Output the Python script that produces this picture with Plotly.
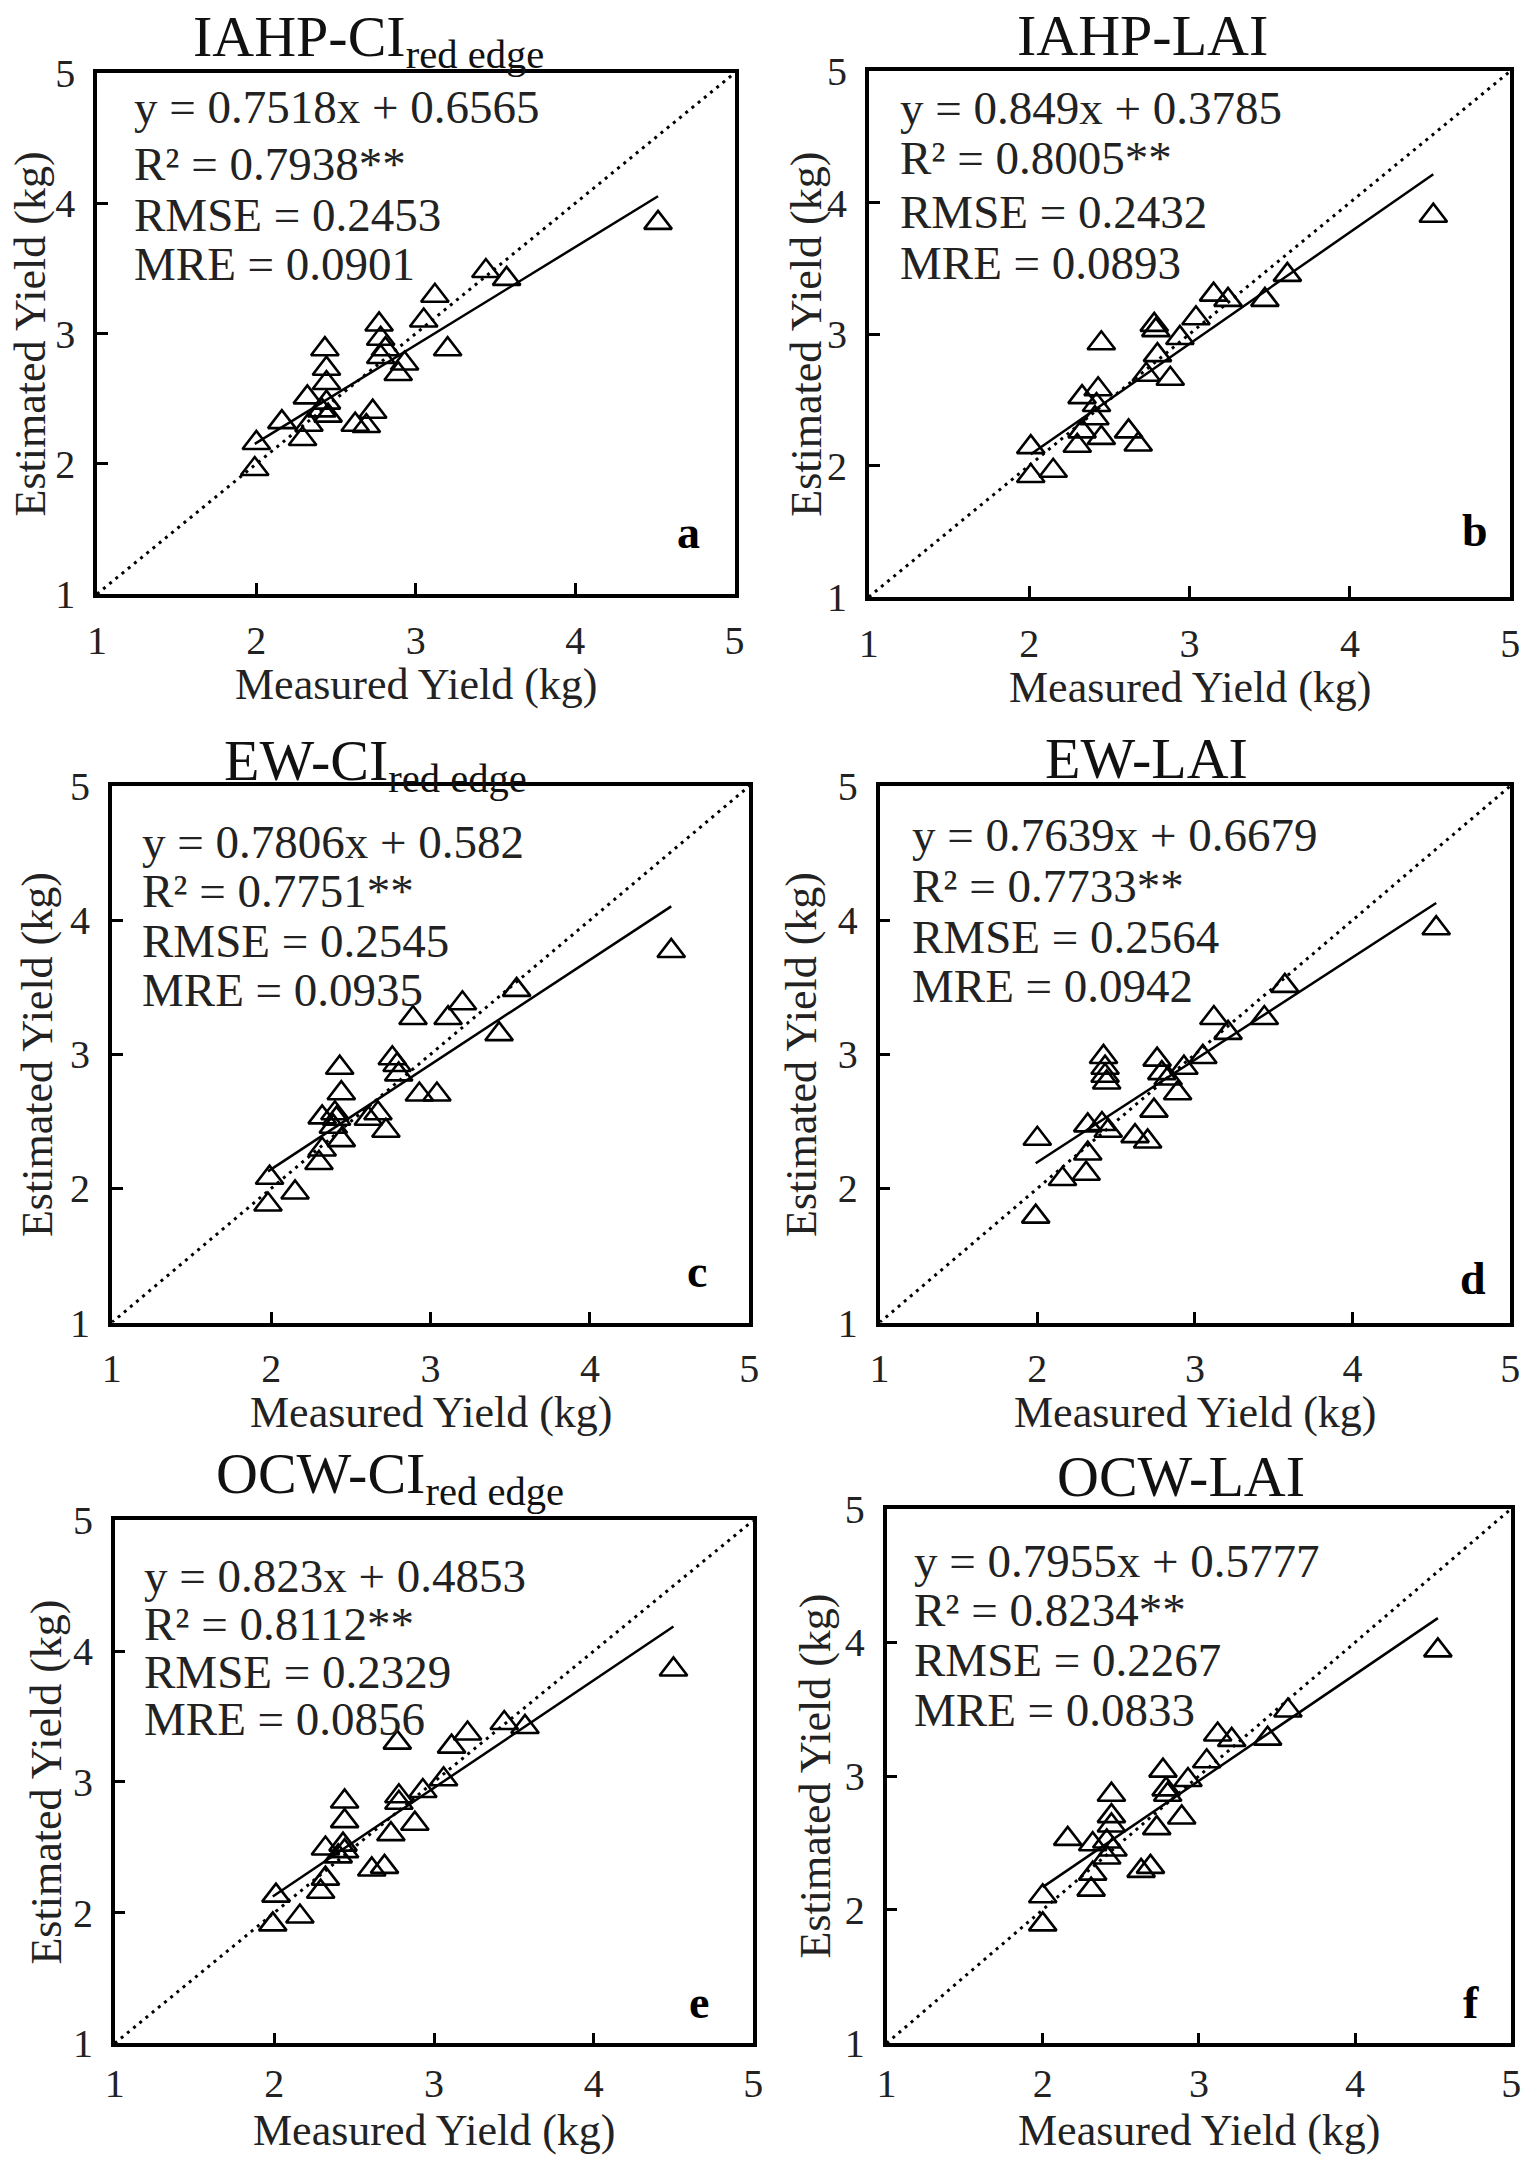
import plotly.graph_objects as go

W, H = 1534, 2169
OFF = 8  # default page body margin
FONT = "Liberation Serif"

# ---------------- data ----------------
panel_ids = ["a", "b", "c", "d", "e", "f"]
titles = ["IAHP-CI<sub>red edge</sub>", "IAHP-LAI", "EW-CI<sub>red edge</sub>",
          "EW-LAI", "OCW-CI<sub>red edge</sub>", "OCW-LAI"]

a_meas = [4.52, 3.44, 3.57, 3.12, 3.05, 3.20, 2.77, 2.78, 2.81, 2.78, 2.93, 2.89, 2.43, 2.44,
          2.44, 2.32, 2.44, 2.41, 2.45, 2.33, 2.16, 2.29, 2.62, 2.69, 2.73, 2.00, 1.99]
a_est = [3.85, 3.48, 3.42, 3.29, 3.10, 2.88, 3.07, 2.96, 2.88, 2.82, 2.77, 2.69, 2.88, 2.73,
         2.62, 2.51, 2.47, 2.41, 2.37, 2.30, 2.32, 2.19, 2.30, 2.29, 2.40, 2.16, 1.96]

b_meas = [4.52, 3.61, 3.47, 3.15, 3.24, 3.04, 2.78, 2.79, 2.94, 2.80, 2.73, 2.88, 2.45, 2.43,
          2.33, 2.42, 2.41, 2.33, 2.45, 2.30, 2.62, 2.68, 2.01, 2.15, 2.01]
b_est = [3.90, 3.45, 3.26, 3.30, 3.26, 3.12, 3.07, 3.03, 2.97, 2.84, 2.69, 2.66, 2.93, 2.58,
         2.52, 2.46, 2.36, 2.26, 2.21, 2.15, 2.26, 2.16, 2.14, 1.96, 1.92]

c_meas = [4.51, 3.54, 3.20, 3.11, 2.89, 3.43, 2.76, 2.79, 2.80, 2.93, 3.04, 2.43, 2.44, 2.32,
          2.40, 2.41, 2.61, 2.67, 2.72, 2.44, 2.32, 2.30, 1.99, 2.15, 1.98, 2.39]
c_est = [3.77, 3.48, 3.38, 3.27, 3.27, 3.15, 2.97, 2.92, 2.85, 2.70, 2.70, 2.90, 2.71, 2.53,
         2.56, 2.52, 2.52, 2.56, 2.43, 2.36, 2.29, 2.19, 2.08, 1.97, 1.88, 2.46]

d_meas = [4.53, 3.57, 3.44, 3.12, 3.21, 3.05, 2.76, 2.93, 2.79, 2.83, 2.89, 2.74, 2.42, 2.43,
          2.43, 2.44, 2.32, 2.41, 2.45, 2.62, 2.70, 2.32, 2.00, 2.16, 2.31, 1.99]
d_est = [3.94, 3.51, 3.27, 3.27, 3.16, 2.98, 2.96, 2.90, 2.86, 2.82, 2.71, 2.58, 2.98, 2.90,
         2.84, 2.79, 2.47, 2.48, 2.43, 2.39, 2.35, 2.26, 2.37, 2.07, 2.11, 1.79]

e_meas = [4.50, 3.44, 3.57, 3.21, 3.11, 2.77, 3.06, 2.93, 2.78, 2.78, 2.88, 2.73, 2.44, 2.44,
          2.32, 2.43, 2.44, 2.40, 2.61, 2.69, 2.32, 2.29, 2.01, 2.16, 1.99]
e_est = [3.86, 3.45, 3.42, 3.37, 3.27, 3.30, 3.02, 2.93, 2.89, 2.84, 2.68, 2.60, 2.85, 2.70,
         2.49, 2.52, 2.47, 2.43, 2.33, 2.35, 2.26, 2.16, 2.13, 1.97, 1.91]

f_meas = [4.53, 3.57, 3.44, 3.12, 3.21, 3.05, 2.77, 2.93, 2.79, 2.80, 2.89, 2.73, 2.44, 2.44,
          2.44, 2.16, 2.32, 2.41, 2.45, 2.41, 2.63, 2.69, 2.32, 2.31, 2.00, 2.00]
f_est = [3.94, 3.49, 3.28, 3.31, 3.27, 3.11, 3.04, 2.97, 2.90, 2.86, 2.69, 2.61, 2.86, 2.70,
         2.63, 2.53, 2.49, 2.51, 2.45, 2.39, 2.29, 2.32, 2.27, 2.15, 2.10, 1.89]

slopes = [0.7518, 0.849, 0.7806, 0.7639, 0.823, 0.7955]
intercepts = [0.6565, 0.3785, 0.582, 0.6679, 0.4853, 0.5777]
r2_text = ["0.7938", "0.8005", "0.7751", "0.7733", "0.8112", "0.8234"]
rmse_text = ["0.2453", "0.2432", "0.2545", "0.2564", "0.2329", "0.2267"]
mre_text = ["0.0901", "0.0893", "0.0935", "0.0942", "0.0856", "0.0833"]
eq_text = ["y = 0.7518x + 0.6565", "y = 0.849x + 0.3785", "y = 0.7806x + 0.582",
           "y = 0.7639x + 0.6679", "y = 0.823x + 0.4853", "y = 0.7955x + 0.5777"]

tick_vals = [1, 2, 3, 4, 5]
tick_text = ["1", "2", "3", "4", "5"]
axis_range = [1, 5]

meas_all = [a_meas, b_meas, c_meas, d_meas, e_meas, f_meas]
est_all = [a_est, b_est, c_est, d_est, e_est, f_est]

# ---------------- layout (target screen pixel boxes) ----------------
boxes = [  # left, right, top, bottom
    (88, 734, 52, 584),
    (870, 1520, 50, 587),
    (103, 749, 780, 1328),
    (881, 1520, 780, 1328),
    (106, 753, 1530, 2064),
    (888, 1521, 1518, 2064),
]
title_pos = [(363, 19), (1147, 14), (370, 758), (1151, 752), (385, 1486), (1186, 1485)]
ytitle_x = [21, 806, 28, 802, 37, 816]
xtitle_dy = [92, 92, 92, 92, 89, 89]
xtick_standoff = [8, 8, 8, 8, 2, 2]
text_dx = [35, 30, 29, 31, 28, 26]
text_dy = [[35, 93, 145, 195], [38, 89, 144, 196], [57, 107, 158, 208],
           [50, 102, 154, 204], [57, 106, 155, 203], [53, 103, 155, 206]]
letter_d = [(47, 63), (36, 68), (53, 52), (38, 45), (55, 42), (41, 42)]


def px(x):
    return (x - OFF) / W


def py(y):
    return 1 - (y - OFF) / H


fig = go.Figure()
annotations = []
layout_axes = {}

for i, pid in enumerate(panel_ids):
    l, r, t, b = boxes[i]
    n = "" if i == 0 else str(i + 1)
    xa, ya = "x" + n, "y" + n
    meas, est = meas_all[i], est_all[i]

    # 1:1 line
    fig.add_trace(go.Scatter(x=axis_range, y=axis_range, mode="lines", xaxis=xa, yaxis=ya,
                             line=dict(color="black", width=3, dash="3px,5px"),
                             showlegend=False, hoverinfo="skip"))
    # fitted line
    x0, x1 = min(meas), max(meas)
    fig.add_trace(go.Scatter(x=[x0, x1],
                             y=[slopes[i] * x0 + intercepts[i], slopes[i] * x1 + intercepts[i]],
                             mode="lines", xaxis=xa, yaxis=ya,
                             line=dict(color="black", width=2.5),
                             showlegend=False, hoverinfo="skip"))
    # points
    fig.add_trace(go.Scatter(x=meas, y=est, mode="markers", xaxis=xa, yaxis=ya,
                             marker=dict(symbol="triangle-up-open", size=24, color="black",
                                         line=dict(color="black", width=2.6)),
                             showlegend=False))

    common = dict(range=axis_range, tickvals=tick_vals, ticktext=tick_text,
                  showline=True, linewidth=3.5, linecolor="black", mirror=True,
                  ticks="inside", ticklen=11, tickwidth=3, tickcolor="black",
                  showgrid=False, zeroline=False,
                  tickfont=dict(family=FONT, size=40, color="#222"))
    layout_axes["xaxis" + n] = dict(domain=[px(l), px(r)], anchor=ya,
                                    ticklabelstandoff=xtick_standoff[i], **common)
    layout_axes["yaxis" + n] = dict(domain=[py(b), py(t)], anchor=xa, ticklabelstandoff=10, **common)

    # title
    tx, ty = title_pos[i]
    annotations.append(dict(text=titles[i], x=px(tx), y=py(ty), xref="paper", yref="paper",
                            xanchor="center", yanchor="middle", showarrow=False,
                            font=dict(family=FONT, size=58, color="#111")))
    # axis titles
    annotations.append(dict(text="Measured Yield (kg)", x=px((l + r) / 2), y=py(b + xtitle_dy[i]),
                            xref="paper", yref="paper", xanchor="center", yanchor="middle",
                            showarrow=False, font=dict(family=FONT, size=44, color="#222")))
    annotations.append(dict(text="Estimated Yield (kg)", x=px(ytitle_x[i]), y=py((t + b) / 2),
                            xref="paper", yref="paper", xanchor="center", yanchor="middle",
                            textangle=-90, showarrow=False,
                            font=dict(family=FONT, size=44, color="#222")))
    # stats text
    lines = [eq_text[i], "R² = " + r2_text[i] + "**", "RMSE = " + rmse_text[i],
             "MRE = " + mre_text[i]]
    for k, s in enumerate(lines):
        annotations.append(dict(text=s, x=px(l + text_dx[i]), y=py(t + text_dy[i][k]),
                                xref="paper", yref="paper", xanchor="left", yanchor="middle",
                                showarrow=False, font=dict(family=FONT, size=47, color="#222")))
    # panel letter
    ldx, ldy = letter_d[i]
    annotations.append(dict(text="<b>" + pid + "</b>", x=px(r - ldx), y=py(b - ldy),
                            xref="paper", yref="paper", xanchor="center", yanchor="middle",
                            showarrow=False, font=dict(family=FONT, size=46, color="black")))

fig.update_layout(width=W, height=H, margin=dict(l=0, r=0, t=0, b=0),
                  paper_bgcolor="white", plot_bgcolor="white",
                  annotations=annotations, **layout_axes)

fig.write_html("out.html")
